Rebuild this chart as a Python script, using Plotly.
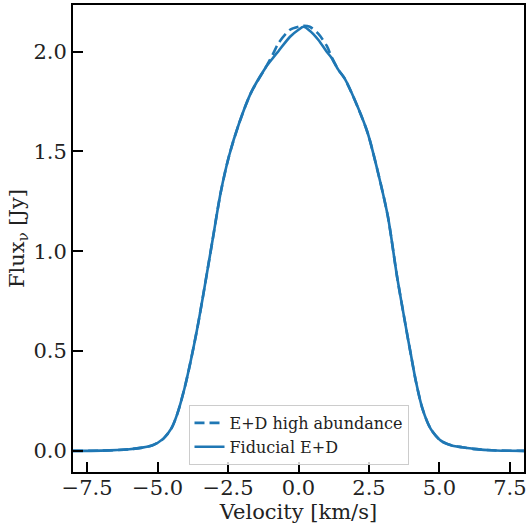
import plotly.graph_objects as go

velocity = [-8.0, -7.0, -6.0, -5.6, -5.2, -4.8, -4.5, -4.3, -4.05, -3.87, -3.7, -3.55, -3.4, -3.2,
            -3.05, -2.76, -2.46, -2.11, -1.7, -1.17, -0.9, -0.7, -0.3, 0.0, 0.18, 0.4, 0.7, 1.0,
            1.17, 1.41, 1.64, 2.11, 2.46, 2.82, 3.17, 3.5, 3.81, 3.99, 4.17, 4.4, 4.69, 5.05,
            5.46, 5.81, 6.2, 7.0, 8.0]

flux_fiducial = [0.0, 0.001, 0.008, 0.015, 0.027, 0.06, 0.115, 0.185, 0.31, 0.42, 0.535, 0.645, 0.765, 0.93,
                 1.055, 1.295, 1.48, 1.64, 1.79, 1.92, 1.97, 2.005, 2.075, 2.11, 2.125, 2.105, 2.06, 2.0,
                 1.97, 1.91, 1.865, 1.72, 1.59, 1.395, 1.175, 0.87, 0.62, 0.48, 0.345, 0.21, 0.11, 0.051,
                 0.026, 0.018, 0.01, 0.002, 0.0]

flux_high = [0.0, 0.001, 0.008, 0.015, 0.027, 0.06, 0.115, 0.185, 0.31, 0.42, 0.535, 0.645, 0.765, 0.93,
             1.055, 1.295, 1.48, 1.64, 1.79, 1.92, 1.99, 2.045, 2.11, 2.125, 2.13, 2.125, 2.09, 2.03,
             1.975, 1.91, 1.865, 1.72, 1.59, 1.395, 1.175, 0.87, 0.62, 0.48, 0.345, 0.21, 0.11, 0.051,
             0.026, 0.018, 0.01, 0.002, 0.0]

x_ticks = [-7.5, -5.0, -2.5, 0.0, 2.5, 5.0, 7.5]
y_ticks = [0.0, 0.5, 1.0, 1.5, 2.0]

color = "#1f77b4"
font = "DejaVu Serif"

fig = go.Figure()
fig.add_trace(go.Scatter(x=velocity, y=flux_high, mode="lines", name="E+D high abundance",
                         line=dict(color=color, width=2.6, dash="10px,5px", shape="spline", smoothing=0.8)))
fig.add_trace(go.Scatter(x=velocity, y=flux_fiducial, mode="lines", name="Fiducial E+D",
                         line=dict(color=color, width=2.6, shape="spline", smoothing=0.8)))

axis_common = dict(showline=True, linecolor="black", linewidth=2, mirror=True,
                   ticks="inside", ticklen=10, tickwidth=2, tickcolor="black",
                   showgrid=False, zeroline=False,
                   tickfont=dict(family=font, size=21, color="#222"))

fig.update_xaxes(range=[-8, 8], tickvals=x_ticks, tickformat=".1f", ticklabelstandoff=-4,
                 title=dict(text="Velocity [km/s]", font=dict(family=font, size=21, color="#222"), standoff=2),
                 **axis_common)
fig.update_yaxes(range=[-0.106, 2.234], tickvals=y_ticks, tickformat=".1f",
                 title=dict(text="Flux<sub>ν</sub> [Jy]", font=dict(family=font, size=21, color="#222"), standoff=3),
                 **axis_common)

fig.update_layout(
    width=530, height=527,
    margin=dict(l=73, r=3, t=4, b=55),
    plot_bgcolor="white", paper_bgcolor="white",
    legend=dict(x=0.5, y=0.015, xanchor="center", yanchor="bottom",
                bgcolor="rgba(255,255,255,0.8)", bordercolor="#cccccc", borderwidth=1,
                font=dict(family=font, size=16, color="#222"), tracegroupgap=0),
    showlegend=True,
)

fig.write_html("out.html", config={"displayModeBar": False},
               post_script="document.body.style.margin='0';document.body.style.overflow='hidden';")
